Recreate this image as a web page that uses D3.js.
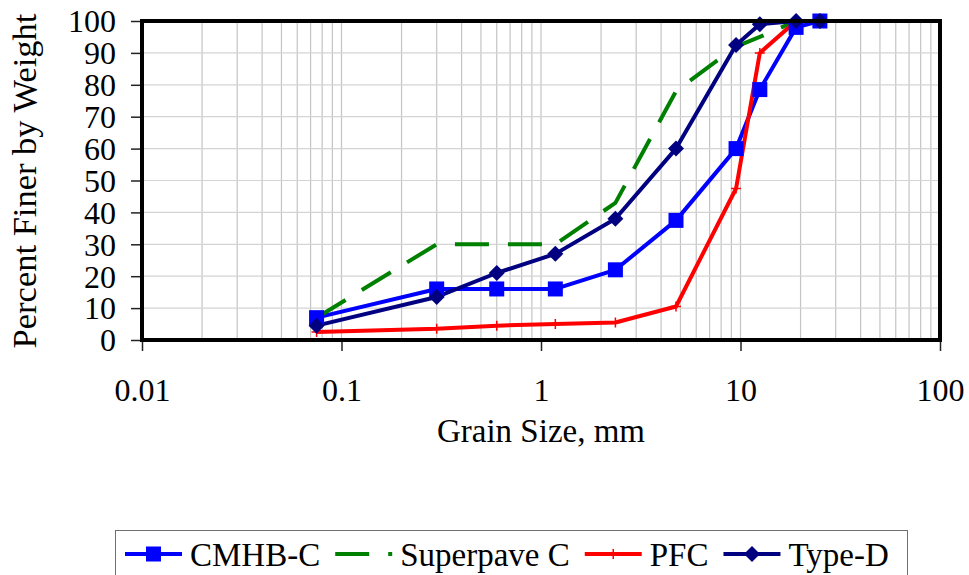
<!DOCTYPE html>
<html>
<head>
<meta charset="utf-8">
<script src="https://cdn.jsdelivr.net/npm/d3@7"></script>
<style>
  body { margin: 0; background: #fff; }
  text { font-family: 'Liberation Serif', 'Times New Roman', serif; fill: #000; }
</style>
</head>
<body>
<svg id="canvas" width="969" height="575"></svg>
<script>
// sieve sizes (mm) and percent passing for each gradation
let sieveSizes = [0.075, 0.3, 0.6, 1.18, 2.36, 4.75, 9.5, 12.5, 19, 25];
let cmhbC = [7, 16, 16, 16, 22, 37.5, 60, 78.5, 98, 100];
let superpaveC = [7, 30, 30, 30, 43, 78, 92, 95, 100, 100];
let pfc = [2.5, 3.5, 4.5, 5, 5.5, 10.5, 47.5, 90, 100, 100];
let typeD = [4.5, 13.5, 21, 27, 38, 60, 92.5, 99, 100, 100];

let seriesNames = ['CMHB-C', 'Superpave C', 'PFC', 'Type-D'];
let xTicks = [0.01, 0.1, 1, 10, 100];
let yTicks = [0, 10, 20, 30, 40, 50, 60, 70, 80, 90, 100];

let series = [
  { name: seriesNames[0], values: cmhbC, color: '#0000ff', marker: 'square', dash: null },
  { name: seriesNames[1], values: superpaveC, color: '#008000', marker: null, dash: '34,19' },
  { name: seriesNames[2], values: pfc, color: '#ff0000', marker: 'plus', dash: null },
  { name: seriesNames[3], values: typeD, color: '#000080', marker: 'diamond', dash: null }
];

let canvas = d3.select('#canvas');

let plotLeft = 142, plotRight = 940, plotTop = 21, plotBottom = 340;

let x = d3.scaleLog().domain([0.01, 100]).range([plotLeft, plotRight]);
let y = d3.scaleLinear().domain([0, 100]).range([plotBottom, plotTop]);

// grid
let minorX = [];
[0.01, 0.1, 1, 10].forEach((d) => {
  for (let k = 2; k <= 9; k++) minorX.push(d * k);
});
minorX = minorX.concat(xTicks);

canvas.append('g')
  .selectAll('line')
  .data(minorX)
  .enter()
  .append('line')
  .attr('x1', (d) => x(d))
  .attr('x2', (d) => x(d))
  .attr('y1', plotTop)
  .attr('y2', plotBottom)
  .attr('stroke', '#c4c4c4')
  .attr('stroke-width', 1.2);

canvas.append('g')
  .selectAll('line')
  .data(yTicks)
  .enter()
  .append('line')
  .attr('x1', plotLeft)
  .attr('x2', plotRight)
  .attr('y1', (d) => y(d))
  .attr('y2', (d) => y(d))
  .attr('stroke', '#d4d4d4')
  .attr('stroke-width', 1.2);

// axes
let yAxis = d3.axisLeft(y).tickValues(yTicks).tickSize(11).tickPadding(15);
let yG = canvas.append('g').attr('transform', 'translate(' + plotLeft + ',0)').call(yAxis);
yG.select('.domain').remove();
yG.selectAll('line').attr('stroke', '#222').attr('stroke-width', 1.5);
yG.selectAll('text').attr('font-size', 32).attr('dy', '0.34em');

let xAxis = d3.axisBottom(x).tickValues(xTicks).tickSize(11).tickPadding(27)
  .tickFormat((d) => String(d));
let xG = canvas.append('g').attr('transform', 'translate(0,' + plotBottom + ')').call(xAxis);
xG.select('.domain').remove();
xG.selectAll('line').attr('stroke', '#222').attr('stroke-width', 1.5);
xG.selectAll('text').attr('font-size', 32);

// lines
let line = d3.line()
  .x((d) => x(d[0]))
  .y((d) => y(d[1]));

series.forEach((s) => {
  let pts = sieveSizes.map((size, i) => [size, s.values[i]]);
  canvas.append('path')
    .datum(pts)
    .attr('d', line)
    .attr('fill', 'none')
    .attr('stroke', s.color)
    .attr('stroke-width', 4)
    .attr('stroke-linejoin', 'round')
    .attr('stroke-dasharray', s.dash);
});

// markers
let drawMarker = (g, type, color, cx, cy) => {
  if (type === 'square') {
    g.append('rect')
      .attr('x', cx - 7.5).attr('y', cy - 7.5)
      .attr('width', 15).attr('height', 15)
      .attr('fill', color);
  } else if (type === 'diamond') {
    g.append('path')
      .attr('d', 'M' + cx + ',' + (cy - 8) + 'L' + (cx + 8) + ',' + cy + 'L' + cx + ',' + (cy + 8) + 'L' + (cx - 8) + ',' + cy + 'Z')
      .attr('fill', color);
  } else if (type === 'plus') {
    g.append('path')
      .attr('d', 'M' + (cx - 5) + ',' + cy + 'H' + (cx + 5) + 'M' + cx + ',' + (cy - 5) + 'V' + (cy + 5))
      .attr('stroke', color)
      .attr('stroke-width', 1.5);
  }
};

series.forEach((s) => {
  if (!s.marker) return;
  let g = canvas.append('g');
  sieveSizes.forEach((size, i) => {
    drawMarker(g, s.marker, s.color, x(size), y(s.values[i]));
  });
});

// frame
canvas.append('rect')
  .attr('x', plotLeft)
  .attr('y', plotTop)
  .attr('width', plotRight - plotLeft)
  .attr('height', plotBottom - plotTop)
  .attr('fill', 'none')
  .attr('stroke', '#000')
  .attr('stroke-width', 4);

// axis titles
canvas.append('text')
  .text('Grain Size, mm')
  .attr('x', (plotLeft + plotRight) / 2)
  .attr('y', 442)
  .attr('text-anchor', 'middle')
  .attr('font-size', 33);

canvas.append('text')
  .text('Percent Finer by Weight')
  .attr('transform', 'translate(36,181) rotate(-90)')
  .attr('text-anchor', 'middle')
  .attr('font-size', 34.5);

// legend
canvas.append('rect')
  .attr('x', 115.5)
  .attr('y', 530.5)
  .attr('width', 792)
  .attr('height', 80)
  .attr('fill', '#fff')
  .attr('stroke', '#707070')
  .attr('stroke-width', 1);

let legendX = 125;
let legendY = 554;
series.forEach((s) => {
  let g = canvas.append('g');
  g.append('line')
    .attr('x1', legendX)
    .attr('x2', legendX + 57)
    .attr('y1', legendY)
    .attr('y2', legendY)
    .attr('stroke', s.color)
    .attr('stroke-width', 4)
    .attr('stroke-dasharray', s.dash);
  if (s.marker) drawMarker(g, s.marker, s.color, legendX + 28.5, legendY);
  let t = g.append('text')
    .text(s.name)
    .attr('x', legendX + 65)
    .attr('y', 566)
    .attr('font-size', 33);
  legendX = legendX + 65 + t.node().getComputedTextLength() + 15;
});
</script>
</body>
</html>
